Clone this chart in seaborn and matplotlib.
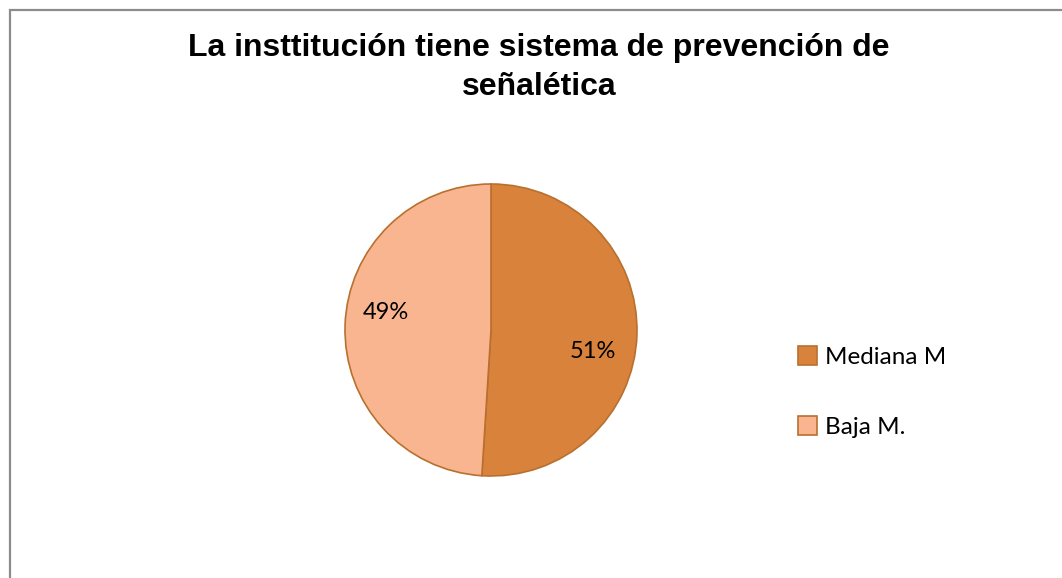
import matplotlib
matplotlib.use("Agg")
import matplotlib.pyplot as plt
import seaborn as sns
from matplotlib.patches import Rectangle, Patch

# data
categories = ["Mediana M", "Baja M."]
values = [51, 49]
pct_labels = ["51%", "49%"]
title = "La insttitución tiene sistema de prevención de\nseñalética"

colors = ["#D9823B", "#F9B590"]
edge = "#B8702F"

sns.set_theme(style="white")
plt.rcParams["font.family"] = ["Lato", "DejaVu Sans"]
plt.rcParams["text.color"] = "black"

W, H = 1062, 578
fig = plt.figure(figsize=(W / 100, H / 100), dpi=100)
fig.patch.set_facecolor("white")

# chart border (only top and left visible)
fig.add_artist(Rectangle((9.5 / W, -0.1), 1.2, (H - 9.5) / H + 0.1,
                         transform=fig.transFigure, fill=False,
                         edgecolor="#8C8C8C", linewidth=1.6))

cx, cy, r = 491, 330, 146
ax = fig.add_axes([(cx - r) / W, (H - cy - r) / H, 2 * r / W, 2 * r / H])
wedges, _ = ax.pie(values, colors=colors, startangle=90, counterclock=False,
                   wedgeprops=dict(edgecolor=edge, linewidth=1.2))
ax.set_xlim(-1, 1)
ax.set_ylim(-1, 1)
ax.set_aspect("equal")
ax.axis("off")

# percentage labels (Excel-style placement)
label_pos = [(0.70, -0.15), (-0.72, 0.12)]
for txt, (x, y) in zip(pct_labels, label_pos):
    ax.text(x, y, txt, ha="center", va="center", fontsize=17, color="black")

fig.text(539 / W, 1 - 33 / H, title, ha="center", va="top",
         fontsize=23, fontweight="bold", family="Liberation Sans",
         color="black", linespacing=1.38)

handles = [Patch(facecolor=c, edgecolor=edge, linewidth=1.2) for c in colors]
fig.legend(handles, categories, loc="center left",
           bbox_to_anchor=(776 / W, 1 - 392 / H), frameon=False,
           fontsize=17.5, handlelength=0.8, handleheight=0.8,
           handletextpad=0.3, labelspacing=2.0)

fig.savefig("out.png", dpi=100, facecolor="white")
